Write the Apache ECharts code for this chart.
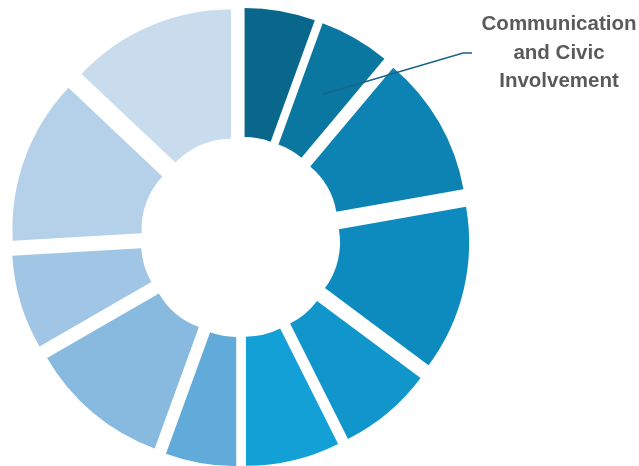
<!DOCTYPE html>
<html>
<head>
<meta charset="utf-8">
<script src="https://cdn.jsdelivr.net/npm/echarts@6/dist/echarts.min.js"></script>
<style>
  html, body { margin: 0; padding: 0; background: #ffffff; }
  #chart { width: 639px; height: 466px; }
</style>
</head>
<body>
<div id="chart"></div>
<script>
// Segments, clockwise from 12 o'clock
const categories = [
  'Segment 1',
  'Communication and Civic Involvement',
  'Segment 3',
  'Segment 4',
  'Segment 5',
  'Segment 6',
  'Segment 7',
  'Segment 8',
  'Segment 9',
  'Segment 10',
  'Segment 11'
];
const values = [3, 3, 6, 7, 4, 4, 3, 6, 4, 7, 7];
const colors = [
  '#0a678c', '#0a77a0', '#0c83b3', '#0d8bbe', '#1196cb', '#13a0d6',
  '#60abda', '#88b9df', '#a0c5e5', '#b5d1ea', '#c8dcee'
];
// The one segment that carries a callout
const calloutIndex = 1;
const calloutLines = ['Communication', 'and Civic', 'Involvement'];

// Ring geometry; every segment is pulled out from the centre ("exploded")
const CX = 240.4, CY = 237;
const R_IN = 76.3, R_OUT = 205.4;
const EXPLODE = 24;

const total = values.reduce((a, b) => a + b, 0);

// Start of the callout line: middle of the ring on the segment's mid angle,
// moved out with the segment itself
function calloutAnchor() {
  let before = 0;
  for (let i = 0; i < calloutIndex; i++) before += values[i];
  const mid = (before + values[calloutIndex] / 2) / total * Math.PI * 2;
  const r = (R_IN + R_OUT) / 2 + EXPLODE;
  return [CX + r * Math.sin(mid), CY - r * Math.cos(mid)];
}

const chart = echarts.init(document.getElementById('chart'), null, { renderer: 'canvas' });

const anchor = calloutAnchor();

chart.setOption({
  backgroundColor: '#ffffff',
  animation: false,
  graphic: [{
    type: 'polyline',
    silent: true,
    z: 100,
    shape: { points: [anchor, [463, 53], [472, 53]] },
    style: { stroke: '#1a6388', lineWidth: 1.6, fill: null }
  }, {
    type: 'text',
    silent: true,
    z: 100,
    x: 559,
    y: 53,
    style: {
      text: calloutLines.join('\n'),
      fontFamily: "'Liberation Sans', Arial, sans-serif",
      fontWeight: 'bold',
      fontSize: 20.5,
      lineHeight: 28.5,
      fill: '#5a5a5a',
      align: 'center',
      verticalAlign: 'middle'
    }
  }],
  series: [{
    type: 'pie',
    center: [CX, CY],
    radius: [R_IN, R_OUT],
    startAngle: 90,
    clockwise: true,
    avoidLabelOverlap: false,
    selectedMode: 'multiple',
    selectedOffset: EXPLODE,
    silent: true,
    itemStyle: { borderWidth: 0 },
    label: { show: false },
    labelLine: { show: false },
    data: categories.map((name, i) => ({
      name: name,
      value: values[i],
      selected: true,
      itemStyle: { color: colors[i], borderWidth: 0 },
      select: { itemStyle: { color: colors[i], borderWidth: 0 } }
    }))
  }]
});
</script>
</body>
</html>
